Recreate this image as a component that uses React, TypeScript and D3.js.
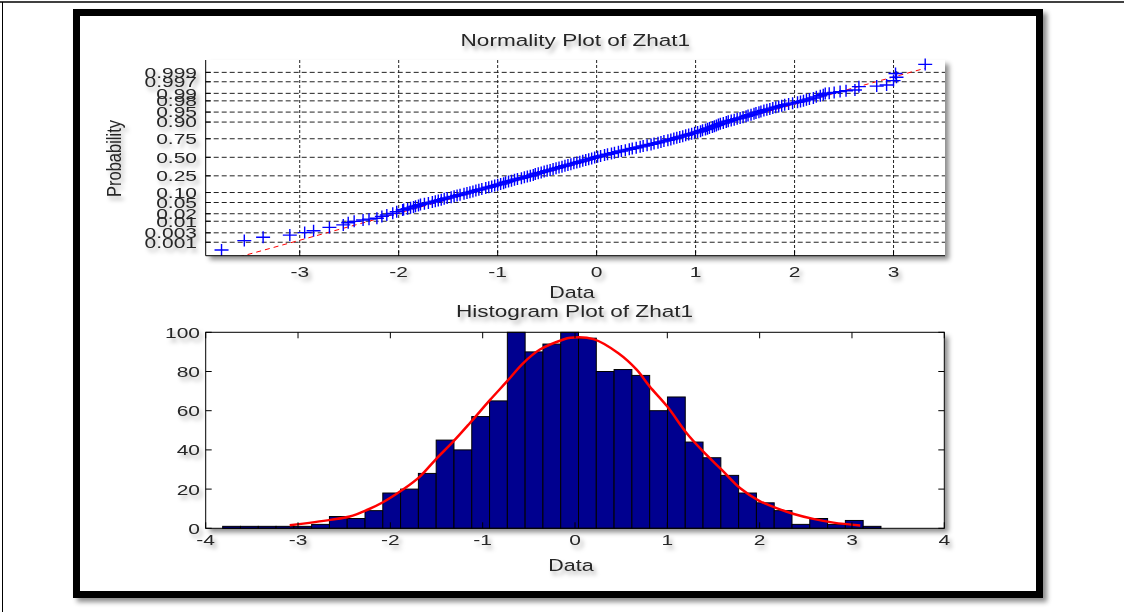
import React from "react";
import * as d3 from "d3";

const W = 1124;
const H = 612;

// normality plot: [sample value, normal score of its plotting position]
const normPoints: [number, number][] = [
  [-3.79, -3.37], [-3.56, -3.03], [-3.37, -2.91], [-3.1, -2.83], [-2.95, -2.74], [-2.86, -2.67],
  [-2.7, -2.55], [-2.56, -2.46], [-2.51, -2.38], [-2.45, -2.33], [-2.36, -2.28], [-2.3, -2.25],
  [-2.22, -2.22], [-2.17, -2.15], [-2.12, -2.1], [-2.06, -2.04], [-2.02, -1.98], [-1.96, -1.92],
  [-1.95, -1.9], [-1.91, -1.87], [-1.88, -1.84], [-1.85, -1.81], [-1.83, -1.78], [-1.8, -1.75],
  [-1.78, -1.72], [-1.74, -1.69], [-1.7, -1.66], [-1.66, -1.63], [-1.63, -1.6], [-1.6, -1.57],
  [-1.57, -1.54], [-1.54, -1.51], [-1.51, -1.48], [-1.47, -1.45], [-1.44, -1.42], [-1.41, -1.39],
  [-1.38, -1.36], [-1.34, -1.33], [-1.31, -1.3], [-1.28, -1.27], [-1.25, -1.24], [-1.22, -1.21],
  [-1.19, -1.18], [-1.16, -1.15], [-1.12, -1.12], [-1.09, -1.09], [-1.06, -1.06], [-1.03, -1.03],
  [-1.0, -1.0], [-0.97, -0.97], [-0.94, -0.94], [-0.92, -0.91], [-0.89, -0.88], [-0.86, -0.85],
  [-0.83, -0.82], [-0.8, -0.79], [-0.76, -0.76], [-0.73, -0.73], [-0.7, -0.7], [-0.67, -0.67],
  [-0.64, -0.64], [-0.62, -0.61], [-0.59, -0.58], [-0.56, -0.55], [-0.53, -0.52], [-0.5, -0.49],
  [-0.47, -0.46], [-0.44, -0.43], [-0.41, -0.4], [-0.38, -0.37], [-0.35, -0.34], [-0.32, -0.31],
  [-0.29, -0.28], [-0.26, -0.25], [-0.23, -0.22], [-0.2, -0.19], [-0.17, -0.16], [-0.14, -0.13],
  [-0.11, -0.1], [-0.08, -0.07], [-0.05, -0.04], [-0.02, -0.01], [0.01, 0.02], [0.04, 0.05],
  [0.08, 0.08], [0.11, 0.11], [0.15, 0.14], [0.18, 0.17], [0.22, 0.2], [0.25, 0.23],
  [0.29, 0.26], [0.33, 0.29], [0.36, 0.32], [0.4, 0.35], [0.44, 0.38], [0.47, 0.41],
  [0.51, 0.44], [0.55, 0.47], [0.58, 0.5], [0.62, 0.53], [0.65, 0.56], [0.68, 0.59],
  [0.72, 0.62], [0.75, 0.65], [0.78, 0.68], [0.81, 0.71], [0.84, 0.74], [0.87, 0.77],
  [0.9, 0.8], [0.93, 0.83], [0.96, 0.86], [0.99, 0.89], [1.02, 0.92], [1.05, 0.95],
  [1.07, 0.98], [1.1, 1.01], [1.12, 1.04], [1.14, 1.07], [1.17, 1.1], [1.19, 1.13],
  [1.21, 1.16], [1.23, 1.19], [1.25, 1.22], [1.28, 1.25], [1.31, 1.28], [1.33, 1.31],
  [1.36, 1.34], [1.39, 1.37], [1.42, 1.4], [1.45, 1.43], [1.48, 1.46], [1.51, 1.49],
  [1.53, 1.52], [1.56, 1.55], [1.59, 1.58], [1.61, 1.61], [1.64, 1.64], [1.66, 1.67],
  [1.69, 1.7], [1.72, 1.73], [1.75, 1.76], [1.78, 1.79], [1.81, 1.82], [1.84, 1.85],
  [1.87, 1.88], [1.9, 1.91], [1.94, 1.94], [1.98, 1.97], [2.03, 2.0], [2.06, 2.03],
  [2.09, 2.06], [2.12, 2.09], [2.15, 2.12], [2.19, 2.16], [2.22, 2.2], [2.26, 2.24],
  [2.29, 2.28], [2.31, 2.32], [2.35, 2.33], [2.4, 2.36], [2.46, 2.39], [2.52, 2.42],
  [2.61, 2.45], [2.65, 2.57], [2.83, 2.59], [2.93, 2.63], [3.0, 2.79], [3.03, 2.91],
  [3.02, 3.05], [3.32, 3.38],
];
// fitted reference line, [value, score] at both data extremes
const refLine: [number, number][] = [[-3.79, -3.8], [3.32, 3.24]];
const probTicks = [0.001, 0.003, 0.01, 0.02, 0.05, 0.1, 0.25, 0.5, 0.75, 0.9, 0.95, 0.98, 0.99, 0.997, 0.999];
const probLabels = ["0.001", "0.003", "0.01", "0.02", "0.05", "0.10", "0.25", "0.50", "0.75", "0.90", "0.95", "0.98", "0.99", "0.997", "0.999"];
const normXTicks = [-3, -2, -1, 0, 1, 2, 3];

// histogram, 37 bins
const histCounts = [1, 1, 1, 1, 1, 2, 6, 5, 9, 18, 20, 28, 45, 40, 57, 65, 100, 90, 94, 100, 97, 80, 81, 78, 60, 67, 44, 36, 27, 18, 13, 9, 2, 5, 2, 4, 1];
const binStart = -3.816;
const binWidth = 0.1927;
// red fitted density
const fitCurve: [number, number][] = [
  [-3.09, 1.5], [-2.65, 4.3], [-2.44, 6], [-2.26, 9.2], [-2.08, 13.3], [-1.86, 19.9], [-1.68, 26.4],
  [-1.5, 35.6], [-1.32, 44.2], [-1.14, 53.6], [-0.92, 65.5], [-0.74, 74.8], [-0.56, 84.3], [-0.38, 91.2],
  [-0.14, 96.1], [-0.05, 97.2], [0.2, 96.5], [0.47, 89.3], [0.67, 80.8], [0.81, 72.3], [1.0, 62.1],
  [1.21, 48.5], [1.39, 39.1], [1.59, 29.8], [1.79, 20.4], [2.0, 13.9], [2.19, 10.2], [2.37, 7.3],
  [2.58, 4.8], [2.8, 2.9], [3.09, 1.4],
];
const histXTicks = [-4, -3, -2, -1, 0, 1, 2, 3, 4];
const histYTicks = [0, 20, 40, 60, 80, 100];

// inverse normal cdf (Acklam)
function probit(p: number) {
  const a = [-39.69683028665376, 220.9460984245205, -275.9285104469687, 138.357751867269, -30.66479806614716, 2.506628277459239];
  const b = [-54.47609879822406, 161.5858368580409, -155.6989798598866, 66.80131188771720, -13.28068155288572];
  const c = [-0.007784894002430293, -0.3223964580411365, -2.400758277161838, -2.549732539343734, 4.374664141464968, 2.938163982698783];
  const d = [0.007784695709041462, 0.3224671290700398, 2.445134137142996, 3.754408661907416];
  const lo = 0.02425;
  if (p < lo || p > 1 - lo) {
    const q = Math.sqrt(-2 * Math.log(p < lo ? p : 1 - p));
    const v = (((((c[0] * q + c[1]) * q + c[2]) * q + c[3]) * q + c[4]) * q + c[5]) / ((((d[0] * q + d[1]) * q + d[2]) * q + d[3]) * q + 1);
    return p < lo ? v : -v;
  }
  const q = p - 0.5;
  const r = q * q;
  return ((((((a[0] * r + a[1]) * r + a[2]) * r + a[3]) * r + a[4]) * r + a[5]) * q) / (((((b[0] * r + b[1]) * r + b[2]) * r + b[3]) * r + b[4]) * r + 1);
}

const FONT = "'Liberation Sans', Arial, Helvetica, sans-serif";
const INK = "#262626";

type LabelProps = { x: number; y: number; anchor?: string; size?: number; sx?: number; rot?: number; children: React.ReactNode };
const Label = ({ x, y, anchor = "middle", size = 15, sx = 1.4, rot = 0, children }: LabelProps) => (
  <text
    transform={`translate(${x},${y}) scale(${sx},1)${rot ? ` rotate(${rot})` : ""}`}
    textAnchor={anchor}
    fontSize={size}
    fontFamily={FONT}
    fill={INK}
  >
    {children}
  </text>
);

// top axes
const n = { l: 205.7, r: 945, t: 60, b: 255.7 };
const nx = d3.scaleLinear().domain([-3.95, 3.52]).range([n.l, n.r]);
const ny = d3.scaleLinear().domain([-3.58, 3.54]).range([n.b, n.t]);

// bottom axes
const h = { l: 205.7, r: 944.3, t: 332.3, b: 528.3 };
const hx = d3.scaleLinear().domain([-4, 4]).range([h.l, h.r]);
const hy = d3.scaleLinear().domain([0, 100]).range([h.b, h.t]);

export default function App() {
  const refPath = d3.line<[number, number]>().x((d) => nx(d[0])).y((d) => ny(d[1]))(refLine) || "";
  const fitPath =
    d3
      .line<[number, number]>()
      .x((d) => hx(d[0]))
      .y((d) => hy(d[1]))
      .curve(d3.curveCatmullRom.alpha(0.5))(fitCurve) || "";

  return (
    <svg width={W} height={H} style={{ position: "absolute", left: 0, top: 0 }}>
      <defs>
        <filter id="tshadow" x="-20%" y="-40%" width="150%" height="200%">
          <feDropShadow dx="3" dy="4" stdDeviation="2" floodColor="#000" floodOpacity="0.3" />
        </filter>
        <filter id="bshadow" x="-5%" y="-5%" width="115%" height="120%">
          <feDropShadow dx="4" dy="4" stdDeviation="2.5" floodColor="#000" floodOpacity="0.45" />
        </filter>
        <clipPath id="nclip">
          <rect x={n.l} y={n.t} width={n.r - n.l} height={n.b - n.t} />
        </clipPath>
      </defs>
      <rect width={W} height={H} fill="#fff" />
      <line x1={0} x2={W} y1={2} y2={2} stroke="#000" strokeWidth={1.5} />
      <line x1={2.5} x2={2.5} y1={2} y2={H} stroke="#000" strokeWidth={1} />

      {/* thick frame */}
      <rect x={76.5} y={12.5} width={963} height={582} fill="#fff" stroke="#000" strokeWidth={7} filter="url(#bshadow)" />

      {/* normality plot */}
      <rect x={n.l} y={n.t} width={n.r - n.l} height={n.b - n.t} fill="#fff" filter="url(#bshadow)" />
      <g stroke="#222" strokeWidth={1} fill="none">
        {probTicks.map((p) => (
          <line key={p} x1={n.l} x2={n.r} y1={ny(probit(p))} y2={ny(probit(p))} strokeDasharray="5,3" />
        ))}
        {normXTicks.map((t) => (
          <line key={t} x1={nx(t)} x2={nx(t)} y1={n.t} y2={n.b} strokeDasharray="3,2" />
        ))}
      </g>
      <path d={refPath} stroke="#ff0000" strokeWidth={1} strokeDasharray="5,4" fill="none" clipPath="url(#nclip)" />
      <g stroke="#0000ff" strokeWidth={1.4} fill="none">
        {normPoints.map((d, i) => (
          <path key={i} d={`M${nx(d[0]) - 7},${ny(d[1])}h14M${nx(d[0])},${ny(d[1]) - 6}v12`} />
        ))}
      </g>
      <g stroke="#000" strokeWidth={1}>
        <line x1={n.l} x2={n.l} y1={n.t} y2={n.b} />
        <line x1={n.l} x2={n.r} y1={n.b} y2={n.b} />
        {probTicks.map((p) => (
          <line key={p} x1={n.l} x2={n.l + 5} y1={ny(probit(p))} y2={ny(probit(p))} />
        ))}
        {normXTicks.map((t) => (
          <line key={t} x1={nx(t)} x2={nx(t)} y1={n.b} y2={n.b - 5} />
        ))}
      </g>
      <g filter="url(#tshadow)">
        <Label x={(n.l + n.r) / 2} y={46} size={16.5} sx={1.37}>Normality Plot of Zhat1</Label>
        {probTicks.map((p, i) => (
          <Label key={p} x={197} y={ny(probit(p)) + 5.4} anchor="end">{probLabels[i]}</Label>
        ))}
        {normXTicks.map((t) => (
          <Label key={t} x={nx(t)} y={276.5}>{String(t)}</Label>
        ))}
        <Label x={572} y={297.5} size={16.5} sx={1.3}>Data</Label>
        <Label x={121} y={158.5} size={16.5} sx={1.25} rot={-90}>Probability</Label>
      </g>

      {/* histogram */}
      <rect x={h.l} y={h.t} width={h.r - h.l} height={h.b - h.t} fill="#fff" filter="url(#bshadow)" />
      <g fill="#00008f" stroke="#000" strokeWidth={1}>
        {histCounts.map((c, i) => {
          const x0 = binStart + i * binWidth;
          return <rect key={i} x={hx(x0)} y={hy(c)} width={hx(x0 + binWidth) - hx(x0)} height={hy(0) - hy(c)} />;
        })}
      </g>
      <path d={fitPath} stroke="#ff0000" strokeWidth={2.5} fill="none" />
      <g stroke="#000" strokeWidth={1} fill="none">
        <rect x={h.l} y={h.t} width={h.r - h.l} height={h.b - h.t} />
        {histXTicks.map((t) => (
          <g key={t}>
            <line x1={hx(t)} x2={hx(t)} y1={h.b} y2={h.b - 6} />
            <line x1={hx(t)} x2={hx(t)} y1={h.t} y2={h.t + 6} />
          </g>
        ))}
        {histYTicks.map((t) => (
          <g key={t}>
            <line x1={h.l} x2={h.l + 6} y1={hy(t)} y2={hy(t)} />
            <line x1={h.r} x2={h.r - 6} y1={hy(t)} y2={hy(t)} />
          </g>
        ))}
      </g>
      <g filter="url(#tshadow)">
        <Label x={574.5} y={317.3} size={16.5} sx={1.37}>Histogram Plot of Zhat1</Label>
        {histYTicks.map((t) => (
          <Label key={t} x={200} y={hy(t) + 5.4} anchor="end">{String(t)}</Label>
        ))}
        {histXTicks.map((t) => (
          <Label key={t} x={hx(t)} y={545}>{String(t)}</Label>
        ))}
        <Label x={571} y={571} size={16.5} sx={1.3}>Data</Label>
      </g>
    </svg>
  );
}
